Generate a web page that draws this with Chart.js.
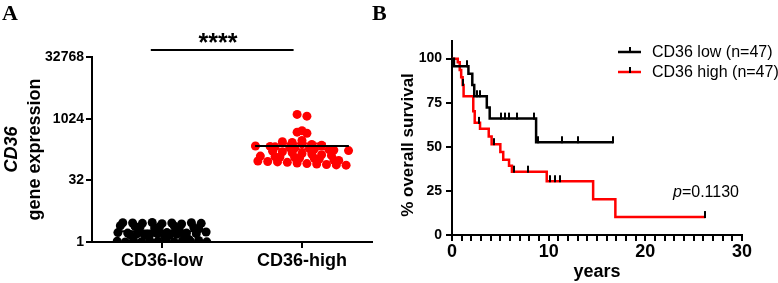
<!DOCTYPE html>
<html>
<head>
<meta charset="utf-8">
<script src="https://cdn.jsdelivr.net/npm/chart.js@4.4.1/dist/chart.umd.min.js"></script>
<style>
html, body { margin: 0; padding: 0; background: #fff; }
#wrap { position: relative; width: 778px; height: 283px; overflow: hidden; }
canvas { position: absolute; top: 0; }
#cA { left: 0; }
#cB { left: 368px; }
</style>
</head>
<body>
<div id="wrap">
  <canvas id="cA" width="390" height="283"></canvas>
  <canvas id="cB" width="410" height="283"></canvas>
</div>
<script>
const FONT = 'Liberation Sans, Arial, Helvetica, sans-serif';

// panel A - CD36 expression per group
const groups = ['CD36-low', 'CD36-high'];
const lowExpr = [2.95, 2.9, 2.85, 3.0, 2.8, 2.9, 2.75, 2.95, 2.85,
  2.5, 2.4, 2.3, 2.2, 2.35, 2.45, 2.15, 2.25, 2.1,
  1.7, 1.65, 1.6, 1.55, 1.5, 1.6, 1.45, 1.7, 1.55, 1.5, 1.65, 1.4, 1.6, 1.45, 1.75, 1.5,
  1.05, 1.0, 1.1, 1.02, 1.08, 1.04, 1.12, 1.0, 1.06, 1.15, 1.03, 1.09, 1.01];
const highExpr = [1300, 1180, 520, 480, 450, 300, 280, 270, 250, 240,
  230, 220, 215, 210, 200, 195, 190, 185, 180, 175,
  170, 165, 160, 150, 145, 140, 135, 130, 125, 120,
  118, 115, 112, 110, 105, 100, 98, 95, 92, 90,
  88, 85, 82, 80, 78, 76, 75];
const yTicksA = [1, 32, 1024, 32768];

// panel B - Kaplan-Meier, step points (years, % surviving)
const lowTimes = [0, 0.2, 1.7, 2.1, 2.3, 3.6, 3.9, 8.7, 16.7];
const lowSurv = [100, 95.7, 91.4, 85.1, 78.7, 72.3, 66.0, 52.6, 52.6];
const lowCensor = [1.5, 2.6, 2.9, 5.1, 5.5, 5.9, 6.7, 8.5, 8.9, 11.4, 13.0, 16.7];
const highTimes = [0, 0.6, 0.8, 0.95, 1.1, 1.2, 2.2, 2.35, 2.9, 3.8, 4.1, 5.0, 5.3, 5.9, 6.2, 9.8, 14.6, 16.9, 26.2];
const highSurv = [100, 97.9, 93.6, 89.4, 85.1, 78.7, 70.2, 63.6, 60.3, 55.9, 51.5, 47.1, 42.7, 39.3, 35.9, 30.5, 20.3, 10.2, 10.2];
const highCensor = [1.15, 2.8, 4.3, 6.4, 7.9, 10.1, 10.7, 11.2, 26.2];
const seriesNames = ['CD36 low (n=47)', 'CD36 high (n=47)'];
const xTicksB = [0, 10, 20, 30];
const yTicksB = [0, 25, 50, 75, 100];

// spread dots sideways like a column scatter
function swarm(vals, center) {
  const bins = {};
  vals.forEach((v, i) => {
    const b = Math.round(Math.log2(v) / 0.4);
    (bins[b] = bins[b] || []).push(i);
  });
  const xs = [];
  Object.keys(bins).forEach(k => {
    const idx = bins[k];
    const n = idx.length;
    const sp = n > 1 ? Math.min(0.07, 0.64 / (n - 1)) : 0;
    const shift = (k % 2) ? sp / 2 : 0;
    idx.forEach((i, j) => {
      let off = (j - (n - 1) / 2) * sp;
      if (n > 2) off += shift * (j % 2 ? 1 : -1) * 0.5;
      xs[i] = center + off;
    });
  });
  return vals.map((v, i) => ({ x: xs[i], y: v }));
}
function stats(vals) {
  const m = vals.reduce((a, b) => a + b, 0) / vals.length;
  const sd = Math.sqrt(vals.reduce((a, b) => a + (b - m) * (b - m), 0) / (vals.length - 1));
  return { mean: m, sem: sd / Math.sqrt(vals.length) };
}
function hline(c, y, half, color, w) {
  return { type: 'line', data: [{ x: c - half, y: y }, { x: c + half, y: y }],
    borderColor: color, borderWidth: w, pointRadius: 0, order: 0 };
}
function errDatasets(vals, c, color) {
  const s = stats(vals);
  return [
    hline(c, s.mean, 0.335, '#000', 2),
    hline(c, s.mean + s.sem, 0.17, color, 2),
    hline(c, s.mean - s.sem, 0.17, color, 2),
    { type: 'line', data: [{ x: c, y: s.mean - s.sem }, { x: c, y: s.mean + s.sem }],
      borderColor: color, borderWidth: 2, pointRadius: 0, order: 0 }
  ];
}

const axisCommon = {
  grid: { drawOnChartArea: false, color: '#000', lineWidth: 2, tickLength: 6 },
  border: { color: '#000', width: 2 }
};

const annotA = {
  id: 'annotA',
  afterDraw(chart) {
    const ctx = chart.ctx, x = chart.scales.x;
    ctx.save();
    ctx.fillStyle = '#000';
    ctx.strokeStyle = '#000';
    ctx.font = 'bold 22px Liberation Serif, Times New Roman, serif';
    ctx.textAlign = 'left';
    ctx.textBaseline = 'alphabetic';
    ctx.fillText('A', 2, 20);
    // significance bracket
    ctx.lineWidth = 2;
    ctx.beginPath();
    ctx.moveTo(x.getPixelForValue(-0.08), 50);
    ctx.lineTo(x.getPixelForValue(0.94), 50);
    ctx.stroke();
    ctx.font = 'bold 25px ' + FONT;
    ctx.textAlign = 'center';
    ctx.fillText('****', x.getPixelForValue(0.4), 51);
    // y title
    const cy = (chart.chartArea.top + chart.chartArea.bottom) / 2;
    ctx.translate(0, cy);
    ctx.rotate(-Math.PI / 2);
    ctx.textBaseline = 'middle';
    ctx.font = 'italic bold 18px ' + FONT;
    ctx.fillText('CD36', 0, 12);
    ctx.font = 'bold 18px ' + FONT;
    ctx.fillText('gene expression', 0, 35);
    ctx.restore();
  }
};

new Chart(document.getElementById('cA'), {
  type: 'scatter',
  data: {
    datasets: [
      { data: swarm(lowExpr, 0), backgroundColor: '#000', borderWidth: 0, pointRadius: 4.5, order: 1 },
      { data: swarm(highExpr, 1), backgroundColor: '#ff0000', borderWidth: 0, pointRadius: 4.5, order: 1 },
      ...errDatasets(lowExpr, 0, '#000'),
      ...errDatasets(highExpr, 1, '#ff0000')
    ]
  },
  options: {
    responsive: false,
    animation: false,
    events: [],
    layout: { padding: { top: 57, right: 18, left: 0, bottom: 0 } },
    plugins: { legend: { display: false }, tooltip: { enabled: false } },
    scales: {
      x: {
        type: 'linear', min: -0.5, max: 1.5,
        afterBuildTicks: s => { s.ticks = groups.map((g, i) => ({ value: i })); },
        afterFit: s => { s.height = 41; },
        ticks: { callback: v => groups[v], color: '#000', autoSkip: false, maxRotation: 0, padding: 2,
          font: { family: FONT, size: 18, weight: 'bold' } },
        ...axisCommon
      },
      y: {
        type: 'logarithmic', min: 1, max: 32768,
        afterBuildTicks: s => { s.ticks = yTicksA.map(v => ({ value: v })); },
        afterFit: s => { s.width = 92; },
        ticks: { callback: v => String(v), color: '#000', padding: 2,
          font: { family: FONT, size: 14, weight: 'bold' } },
        ...axisCommon
      }
    }
  },
  plugins: [annotA]
});

// panel B
function survAt(times, surv, t) {
  let s = surv[0];
  times.forEach((tt, i) => { if (tt <= t) s = surv[i]; });
  return s;
}
// censor mark: short vertical stroke standing on the curve
const tickImg = document.createElement('canvas');
tickImg.width = 2; tickImg.height = 14;
(() => {
  const c = tickImg.getContext('2d');
  c.fillStyle = '#000';
  c.fillRect(0, 1, 2, 7);
})();

function kmLine(times, surv, color, order) {
  return { data: times.map((t, i) => ({ x: t, y: surv[i] })), showLine: true, stepped: 'before',
    borderColor: color, borderWidth: 2.5, pointRadius: 0, fill: false, order: order };
}
function censorSet(cens, times, surv) {
  return { data: cens.map(t => ({ x: t, y: survAt(times, surv, t) })), pointStyle: tickImg,
    pointRadius: 7, order: 0 };
}

const annotB = {
  id: 'annotB',
  afterDraw(chart) {
    const ctx = chart.ctx, ca = chart.chartArea;
    ctx.save();
    ctx.fillStyle = '#000';
    ctx.font = 'bold 22px Liberation Serif, Times New Roman, serif';
    ctx.textAlign = 'left';
    ctx.textBaseline = 'alphabetic';
    ctx.fillText('B', 4, 20);
    // x title
    ctx.font = 'bold 18px ' + FONT;
    ctx.textAlign = 'center';
    ctx.fillText('years', (ca.left + ca.right) / 2, 277);
    // legend
    const cols = ['#000', '#ff0000'];
    ctx.textAlign = 'left';
    ctx.textBaseline = 'middle';
    ctx.font = '16px ' + FONT;
    seriesNames.forEach((name, i) => {
      const y = 52 + i * 20;
      ctx.strokeStyle = cols[i];
      ctx.lineWidth = 2.5;
      ctx.beginPath(); ctx.moveTo(250, y); ctx.lineTo(273, y); ctx.stroke();
      ctx.fillRect(261, y - 5, 2, 6);
      ctx.fillText(name, 284, y + 1);
    });
    // p value
    ctx.font = 'italic 16px ' + FONT;
    ctx.fillText('p', 305, 193);
    const w = ctx.measureText('p').width;
    ctx.font = '16px ' + FONT;
    ctx.fillText('=0.1130', 305 + w, 193);
    // y title
    ctx.translate(40, (ca.top + ca.bottom) / 2 + 7);
    ctx.rotate(-Math.PI / 2);
    ctx.textAlign = 'center';
    ctx.font = 'bold 17px ' + FONT;
    ctx.fillText('% overall survival', 0, 0);
    ctx.restore();
  }
};

new Chart(document.getElementById('cB'), {
  type: 'scatter',
  data: {
    datasets: [
      kmLine(highTimes, highSurv, '#ff0000', 2),
      kmLine(lowTimes, lowSurv, '#000', 1),
      censorSet(lowCensor, lowTimes, lowSurv),
      censorSet(highCensor, highTimes, highSurv)
    ]
  },
  options: {
    responsive: false,
    animation: false,
    events: [],
    layout: { padding: { top: 41, right: 36, left: 0, bottom: 0 } },
    plugins: { legend: { display: false }, tooltip: { enabled: false } },
    scales: {
      x: {
        type: 'linear', min: 0, max: 30,
        afterBuildTicks: s => { s.ticks = Array.from({ length: 31 }, (_, i) => ({ value: i })); },
        afterFit: s => { s.height = 48; },
        ticks: { callback: v => xTicksB.includes(v) ? String(v) : '', color: '#000', autoSkip: false,
          maxRotation: 0, padding: 0, font: { family: FONT, size: 18, weight: 'bold' } },
        ...axisCommon
      },
      y: {
        type: 'linear', min: 0, max: 110,
        afterBuildTicks: s => { s.ticks = yTicksB.map(v => ({ value: v })); },
        afterFit: s => { s.width = 84; },
        ticks: { color: '#000', padding: 4, font: { family: FONT, size: 14, weight: 'bold' } },
        ...axisCommon
      }
    }
  },
  plugins: [annotB]
});
</script>
</body>
</html>
